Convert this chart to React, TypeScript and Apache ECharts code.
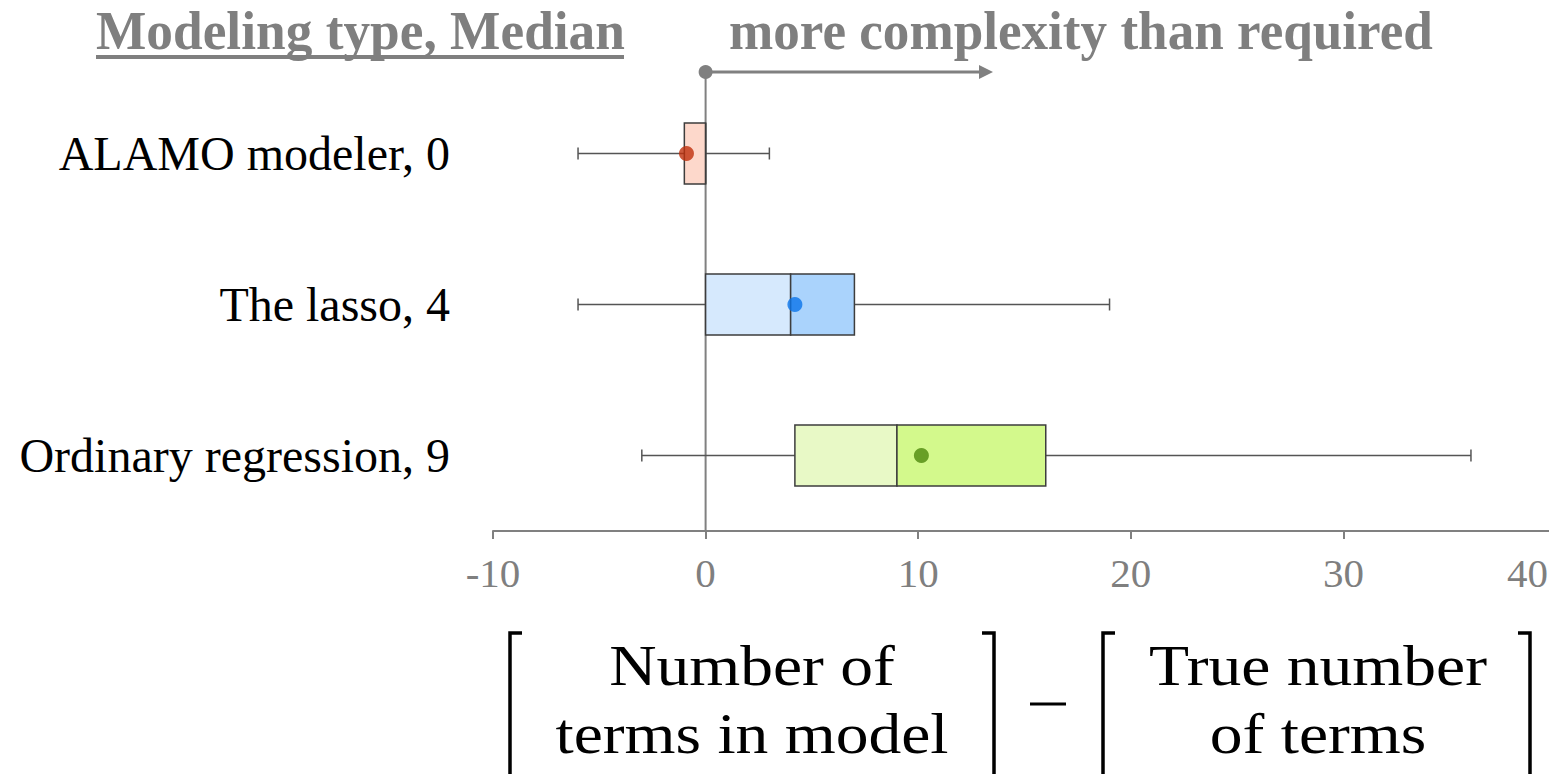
import { useEffect, useRef } from 'react';
import * as echarts from 'echarts';

// Model complexity: spread of (terms in model − true terms) per modeling type
const categories = ['ALAMO modeler, 0', 'The lasso, 4', 'Ordinary regression, 9'];
const whiskerLow = [-6, -6, -3];
const quartile1 = [-1, 0, 4.2];
const medians = [0, 4, 9];
const quartile3 = [0, 7, 16];
const whiskerHigh = [3, 19, 36];
const means = [-0.9, 4.2, 10.15];

const xMin = -10;
const xMax = 40;
const xStep = 10;

const lowerFill = ['#fdd8cb', '#d6e9fd', '#e8f9c6'];
const upperFill = ['#fdd8cb', '#aad3fc', '#d3f98c'];
const meanColors = ['#bf2f0b', '#0a74ea', '#4d880d'];

const SERIF = "'Liberation Serif', 'Times New Roman', serif";
const GRAY = '#808080';

export default function App() {
  const ref = useRef<HTMLDivElement>(null);

  useEffect(() => {
    document.body.style.margin = '0';
    if (!ref.current) return;
    const chart = echarts.init(ref.current, null, { renderer: 'svg' });

    const boxData = categories.map((_, i) => [
      i,
      whiskerLow[i],
      quartile1[i],
      medians[i],
      quartile3[i],
      whiskerHigh[i],
    ]);

    const tickFont = { fontFamily: SERIF, fontSize: 41, color: '#7f7f7f' };

    chart.setOption({
      animation: false,
      backgroundColor: '#ffffff',
      grid: {
        left: 493,
        width: 1063,
        top: 78,
        height: 453,
        containLabel: false,
        outerBoundsMode: 'none',
      },
      xAxis: {
        type: 'value',
        min: xMin,
        max: xMax,
        interval: xStep,
        axisLine: { show: true, lineStyle: { color: GRAY, width: 2 } },
        axisTick: { show: true, length: 8, lineStyle: { color: GRAY, width: 2 } },
        splitLine: { show: false },
        axisLabel: {
          ...tickFont,
          margin: 21,
          alignMaxLabel: 'right',
          formatter: (v: number) => (v === xMax ? `{edge|${v}}` : String(v)),
          rich: { edge: { ...tickFont, padding: [0, 8, 0, 0] } },
        },
      },
      yAxis: {
        type: 'category',
        data: categories,
        inverse: true,
        axisLine: { show: false },
        axisTick: { show: false },
        splitLine: { show: false },
        axisLabel: {
          fontFamily: SERIF,
          fontSize: 48,
          color: '#000000',
          margin: 43,
        },
      },
      series: [
        {
          type: 'custom',
          z: 3,
          data: boxData,
          encode: { y: 0, x: [1, 2, 3, 4, 5] },
          renderItem: (_params: any, api: any) => {
            const i = api.value(0);
            const [xLo, y] = api.coord([api.value(1), i]);
            const xQ1 = api.coord([api.value(2), i])[0];
            const xMed = api.coord([api.value(3), i])[0];
            const xQ3 = api.coord([api.value(4), i])[0];
            const xHi = api.coord([api.value(5), i])[0];
            const h = 61;
            const cap = 6;
            const whisker = { stroke: '#555555', lineWidth: 1.5 };
            const edge = { stroke: '#3d3d3d', lineWidth: 1.5 };
            return {
              type: 'group',
              children: [
                { type: 'line', shape: { x1: xLo, y1: y, x2: xQ1, y2: y }, style: whisker },
                { type: 'line', shape: { x1: xQ3, y1: y, x2: xHi, y2: y }, style: whisker },
                { type: 'line', shape: { x1: xLo, y1: y - cap, x2: xLo, y2: y + cap }, style: whisker },
                { type: 'line', shape: { x1: xHi, y1: y - cap, x2: xHi, y2: y + cap }, style: whisker },
                {
                  type: 'rect',
                  shape: { x: xQ1, y: y - h / 2, width: xMed - xQ1, height: h },
                  style: { fill: lowerFill[i], ...edge },
                },
                {
                  type: 'rect',
                  shape: { x: xMed, y: y - h / 2, width: xQ3 - xMed, height: h },
                  style: { fill: upperFill[i], ...edge },
                },
              ],
            };
          },
        },
        {
          type: 'scatter',
          z: 4,
          symbol: 'circle',
          symbolSize: 15,
          data: means.map((m, i) => ({ value: [m, i], itemStyle: { color: meanColors[i] } })),
        },
      ],
    });

    // Zero reference line and "more complexity" arrow, placed through the axis scale
    const x0 = chart.convertToPixel({ xAxisIndex: 0 }, 0) as number;
    const axisY = 531;
    const arrowY = 72;
    const arrowEnd = 993;

    const bracketTop = 633;
    const bracketBottom = 790;
    const bracket = (x: number, dir: number) => ({
      type: 'polyline',
      shape: {
        points: [
          [x + dir * 12, bracketTop],
          [x, bracketTop],
          [x, bracketBottom],
          [x + dir * 12, bracketBottom],
        ],
      },
      style: { stroke: '#000', lineWidth: 3.5, fill: 'none' },
    });
    const formulaText = (text: string, x: number, y: number) => ({
      type: 'text',
      x,
      y,
      scaleX: 1.15,
      style: {
        text,
        fontFamily: SERIF,
        fontSize: 57,
        fill: '#000',
        align: 'center',
        verticalAlign: 'middle',
      },
    });
    const headerText = (text: string, x: number, sx: number) => ({
      type: 'text',
      x,
      y: 31,
      scaleX: sx,
      style: {
        text,
        fontFamily: SERIF,
        fontWeight: 'bold',
        fontSize: 55,
        fill: '#7f7f7f',
        align: 'left',
        verticalAlign: 'middle',
      },
    });

    chart.setOption({
      graphic: [
        {
          type: 'line',
          z: 1,
          shape: { x1: x0, y1: arrowY, x2: x0, y2: axisY },
          style: { stroke: GRAY, lineWidth: 2 },
        },
        {
          type: 'line',
          shape: { x1: x0, y1: arrowY, x2: arrowEnd - 10, y2: arrowY },
          style: { stroke: GRAY, lineWidth: 3 },
        },
        {
          type: 'polygon',
          shape: { points: [[arrowEnd, arrowY], [arrowEnd - 14, arrowY - 7], [arrowEnd - 14, arrowY + 7]] },
          style: { fill: GRAY },
        },
        { type: 'circle', shape: { cx: x0, cy: arrowY, r: 7 }, style: { fill: GRAY } },
        headerText('Modeling type, Median', 96, 0.97),
        { type: 'rect', shape: { x: 96, y: 55, width: 528, height: 4 }, style: { fill: '#7f7f7f' } },
        headerText('more complexity than required', 729, 0.966),
        bracket(510, 1),
        formulaText('Number of', 752, 666),
        formulaText('terms in model', 752, 734),
        bracket(994, -1),
        { type: 'line', shape: { x1: 1030, y1: 704, x2: 1066, y2: 704 }, style: { stroke: '#000', lineWidth: 3 } },
        bracket(1103, 1),
        formulaText('True number', 1318, 666),
        formulaText('of terms', 1318, 734),
        bracket(1530, -1),
      ],
    });

    return () => chart.dispose();
  }, []);

  return <div ref={ref} style={{ width: 1549, height: 774 }} />;
}
